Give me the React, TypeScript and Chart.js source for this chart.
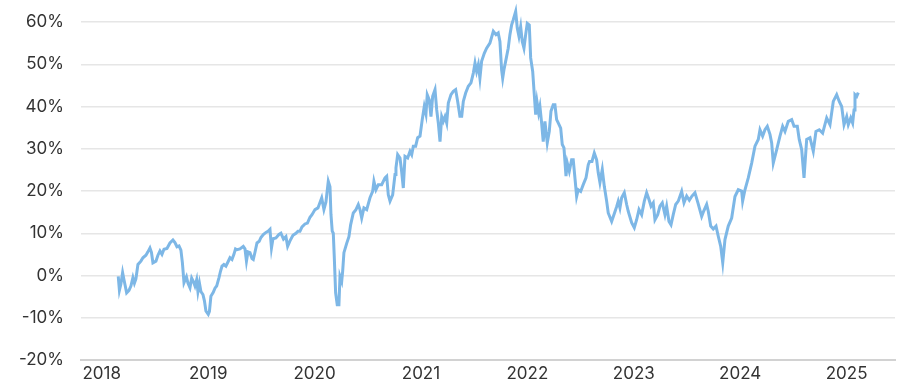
import { useEffect, useRef } from "react";
import { Chart, registerables } from "chart.js";

Chart.register(...registerables);

// decimal years
const dates: number[] = [
  2018.155, 2018.166, 2018.180, 2018.196, 2018.209, 2018.234, 2018.256, 2018.274, 2018.293, 2018.307,
  2018.321, 2018.340, 2018.368, 2018.387, 2018.415, 2018.434, 2018.453, 2018.467, 2018.481, 2018.509,
  2018.528, 2018.547, 2018.566, 2018.585, 2018.613, 2018.641, 2018.669, 2018.688, 2018.707, 2018.726,
  2018.744, 2018.758, 2018.773, 2018.796, 2018.810, 2018.829, 2018.845, 2018.862, 2018.876, 2018.892,
  2018.904, 2018.918, 2018.932, 2018.951, 2018.965, 2018.979, 2019.001, 2019.012, 2019.026, 2019.048,
  2019.064, 2019.080, 2019.102, 2019.116, 2019.130, 2019.148, 2019.167, 2019.186, 2019.205, 2019.224,
  2019.242, 2019.257, 2019.271, 2019.299, 2019.330, 2019.346, 2019.360, 2019.374, 2019.393, 2019.412,
  2019.424, 2019.440, 2019.459, 2019.480, 2019.496, 2019.518, 2019.543, 2019.565, 2019.581, 2019.595,
  2019.609, 2019.637, 2019.665, 2019.684, 2019.708, 2019.731, 2019.747, 2019.769, 2019.797, 2019.825,
  2019.844, 2019.863, 2019.882, 2019.910, 2019.933, 2019.957, 2019.976, 2020.004, 2020.032, 2020.067,
  2020.088, 2020.107, 2020.129, 2020.145, 2020.154, 2020.166, 2020.176, 2020.185, 2020.198, 2020.213,
  2020.229, 2020.239, 2020.255, 2020.264, 2020.276, 2020.302, 2020.323, 2020.339, 2020.364, 2020.389,
  2020.411, 2020.427, 2020.443, 2020.464, 2020.490, 2020.521, 2020.546, 2020.558, 2020.577, 2020.599,
  2020.631, 2020.662, 2020.678, 2020.693, 2020.709, 2020.734, 2020.756, 2020.765, 2020.781, 2020.803,
  2020.819, 2020.834, 2020.850, 2020.875, 2020.897, 2020.913, 2020.928, 2020.950, 2020.969, 2020.991,
  2021.012, 2021.031, 2021.047, 2021.059, 2021.078, 2021.094, 2021.110, 2021.132, 2021.148, 2021.163,
  2021.179, 2021.195, 2021.210, 2021.226, 2021.242, 2021.257, 2021.282, 2021.304, 2021.326, 2021.345,
  2021.366, 2021.383, 2021.398, 2021.420, 2021.445, 2021.470, 2021.492, 2021.508, 2021.523, 2021.539,
  2021.554, 2021.570, 2021.595, 2021.617, 2021.648, 2021.680, 2021.705, 2021.726, 2021.742, 2021.758,
  2021.768, 2021.780, 2021.799, 2021.820, 2021.836, 2021.852, 2021.867, 2021.890, 2021.905, 2021.921,
  2021.937, 2021.952, 2021.968, 2021.984, 2021.999, 2022.018, 2022.031, 2022.050, 2022.065, 2022.078,
  2022.090, 2022.106, 2022.118, 2022.134, 2022.149, 2022.165, 2022.187, 2022.206, 2022.222, 2022.243,
  2022.259, 2022.275, 2022.290, 2022.313, 2022.328, 2022.344, 2022.363, 2022.375, 2022.394, 2022.416,
  2022.431, 2022.447, 2022.463, 2022.478, 2022.501, 2022.525, 2022.551, 2022.572, 2022.584, 2022.607,
  2022.629, 2022.651, 2022.666, 2022.682, 2022.704, 2022.723, 2022.745, 2022.760, 2022.792, 2022.823,
  2022.839, 2022.854, 2022.870, 2022.886, 2022.911, 2022.933, 2022.948, 2022.980, 2023.005, 2023.027,
  2023.049, 2023.074, 2023.099, 2023.121, 2023.143, 2023.162, 2023.183, 2023.199, 2023.225, 2023.246,
  2023.268, 2023.293, 2023.309, 2023.331, 2023.350, 2023.371, 2023.394, 2023.418, 2023.450, 2023.472,
  2023.497, 2023.522, 2023.547, 2023.575, 2023.603, 2023.638, 2023.653, 2023.685, 2023.700, 2023.723,
  2023.747, 2023.773, 2023.794, 2023.817, 2023.836, 2023.857, 2023.888, 2023.920, 2023.951, 2023.982,
  2024.014, 2024.023, 2024.045, 2024.076, 2024.108, 2024.139, 2024.170, 2024.186, 2024.211, 2024.233,
  2024.255, 2024.280, 2024.296, 2024.311, 2024.343, 2024.374, 2024.399, 2024.421, 2024.452, 2024.484,
  2024.506, 2024.537, 2024.555, 2024.578, 2024.600, 2024.625, 2024.656, 2024.687, 2024.712, 2024.743,
  2024.775, 2024.813, 2024.844, 2024.875, 2024.907, 2024.931, 2024.954, 2024.976, 2025.001, 2025.016,
  2025.039, 2025.057, 2025.070, 2025.079, 2025.095, 2025.110,
];

// cumulative return, %
const returns: number[] = [
  -0.2, -3.5, -2.0, 0.7, -1.0, -4.1, -3.5, -2.5, -0.5, -1.8,
  -0.8, 2.6, 3.4, 4.2, 4.8, 5.6, 6.5, 5.5, 3.0, 3.4,
  4.8, 5.8, 5.0, 6.2, 6.4, 7.7, 8.4, 7.8, 6.8, 7.0,
  6.0, 3.0, -1.7, -0.3, -1.8, -2.9, -0.6, -1.5, -2.5, -1.0,
  -3.8, -1.8, -3.8, -4.5, -6.0, -8.4, -9.2, -8.5, -4.9, -4.0,
  -3.0, -2.5, -0.5, 1.0, 2.2, 2.6, 2.2, 3.2, 4.2, 3.8,
  5.0, 6.3, 6.1, 6.3, 6.9, 6.3, 3.4, 5.6, 5.4, 4.0,
  3.8, 5.5, 7.7, 8.1, 9.0, 9.7, 10.2, 10.5, 10.9, 6.5,
  8.7, 8.9, 9.7, 10.0, 8.6, 9.2, 6.9, 8.2, 9.5, 10.0,
  10.5, 10.5, 11.5, 12.2, 12.4, 13.8, 14.4, 15.6, 16.0, 18.4,
  15.6, 17.4, 22.3, 21.0, 14.5, 10.5, 10.0, 4.6, -4.1, -6.9,
  -6.9, -0.2, -1.4, 1.0, 5.4, 7.6, 9.2, 12.0, 14.8, 15.6,
  16.8, 15.6, 13.6, 16.0, 15.6, 18.4, 19.9, 22.3, 20.3, 21.5,
  21.5, 23.1, 23.5, 19.1, 17.6, 19.1, 23.9, 25.5, 28.6, 27.8,
  24.5, 20.7, 28.2, 27.8, 29.4, 28.6, 30.6, 30.6, 32.6, 33.0,
  36.9, 40.0, 38.2, 42.8, 41.6, 37.6, 42.4, 44.0, 39.2, 36.1,
  31.7, 37.6, 36.5, 37.6, 36.1, 40.8, 42.8, 43.6, 44.0, 41.2,
  37.7, 37.7, 41.2, 43.2, 44.8, 45.6, 47.9, 50.3, 48.3, 49.9,
  46.7, 50.7, 52.6, 53.8, 55.0, 57.8, 57.0, 57.4, 55.4, 48.7,
  46.7, 48.7, 51.1, 53.8, 57.0, 59.3, 60.5, 62.5, 58.6, 56.6,
  58.9, 55.4, 53.8, 57.0, 59.7, 59.3, 51.5, 48.3, 42.8, 38.1,
  41.2, 38.5, 40.0, 36.1, 31.7, 36.5, 31.4, 34.1, 38.9, 40.4,
  40.4, 36.9, 36.1, 34.9, 31.0, 30.2, 23.5, 26.6, 24.7, 27.4,
  27.4, 23.1, 18.7, 20.3, 19.9, 21.5, 23.1, 26.2, 27.0, 27.0,
  29.0, 27.4, 24.3, 22.0, 25.1, 21.1, 17.6, 14.8, 12.8, 15.1,
  16.3, 17.6, 16.0, 18.4, 19.6, 16.8, 15.2, 12.5, 11.3, 13.2,
  15.6, 14.4, 17.6, 19.6, 18.0, 16.4, 17.2, 13.2, 14.4, 16.4,
  17.2, 14.4, 16.4, 12.8, 12.0, 14.4, 16.8, 17.6, 19.9, 17.2,
  18.8, 17.8, 18.8, 19.6, 17.2, 14.0, 15.0, 16.8, 15.2, 11.7,
  11.0, 11.7, 9.3, 6.9, 3.0, 8.5, 11.7, 13.6, 18.7, 20.3,
  20.0, 17.6, 20.3, 23.1, 26.6, 30.6, 32.2, 34.5, 33.0, 34.5,
  35.3, 33.4, 31.4, 26.6, 29.8, 33.0, 35.3, 34.1, 36.5, 36.9,
  35.3, 35.3, 32.2, 29.8, 23.1, 32.2, 32.6, 29.4, 34.1, 34.5,
  33.7, 37.3, 35.7, 41.2, 42.8, 41.2, 40.0, 35.7, 37.6, 35.7,
  37.3, 36.1, 39.2, 42.8, 42.4, 43.3,
];

const yearTicks = [2018, 2019, 2020, 2021, 2022, 2023, 2024, 2025];
const percentTicks = [-20, -10, 0, 10, 20, 30, 40, 50, 60];

const FONT = { family: "Inter, 'Noto Sans', sans-serif", size: 17, weight: 400 as any };

export default function App() {
  const ref = useRef<HTMLCanvasElement>(null);

  useEffect(() => {
    if (!ref.current) return;
    const chart = new Chart(ref.current, {
      type: "line",
      data: {
        datasets: [
          {
            data: dates.map((d, i) => ({ x: d, y: returns[i] })),
            borderColor: "#7db7e6",
            borderWidth: 3,
            pointRadius: 0,
            pointHoverRadius: 0,
            tension: 0,
            fill: false,
            clip: false as any,
          },
        ],
      },
      options: {
        animation: false,
        responsive: false,
        maintainAspectRatio: false,
        layout: { padding: { top: 22, right: 4, left: 0, bottom: 0 } },
        plugins: { legend: { display: false }, tooltip: { enabled: false } },
        scales: {
          x: {
            type: "linear",
            min: 2017.805,
            max: 2025.455,
            grid: { display: false, drawTicks: false, tickLength: 0 },
            border: { display: true, color: "#d2d2d2", width: 2 },
            afterBuildTicks: (axis: any) => {
              axis.ticks = yearTicks.map((v) => ({ value: v }));
            },
            afterFit: (s: any) => {
              s.height = 23;
            },
            ticks: {
              autoSkip: false,
              maxRotation: 0,
              padding: 4,
              color: "#333333",
              font: FONT,
              callback: (v: any) => String(v),
            },
          },
          y: {
            min: -20,
            max: 60,
            afterBuildTicks: (axis: any) => {
              axis.ticks = percentTicks.map((v) => ({ value: v }));
            },
            afterFit: (s: any) => {
              s.width = 81;
            },
            grid: {
              color: "#e6e6e6",
              lineWidth: 1.5,
              drawTicks: true,
              tickLength: 17,
              tickColor: "rgba(0,0,0,0)",
            },
            border: { display: false },
            ticks: {
              padding: 0,
              color: "#333333",
              font: FONT,
              callback: (v: any) => `${v}%`,
            },
          },
        },
      },
    });
    return () => chart.destroy();
  }, []);

  return (
    <div style={{ position: "fixed", left: 0, top: 0, width: 899, height: 383, background: "#fff" }}>
      <canvas ref={ref} width={899} height={383} />
    </div>
  );
}
